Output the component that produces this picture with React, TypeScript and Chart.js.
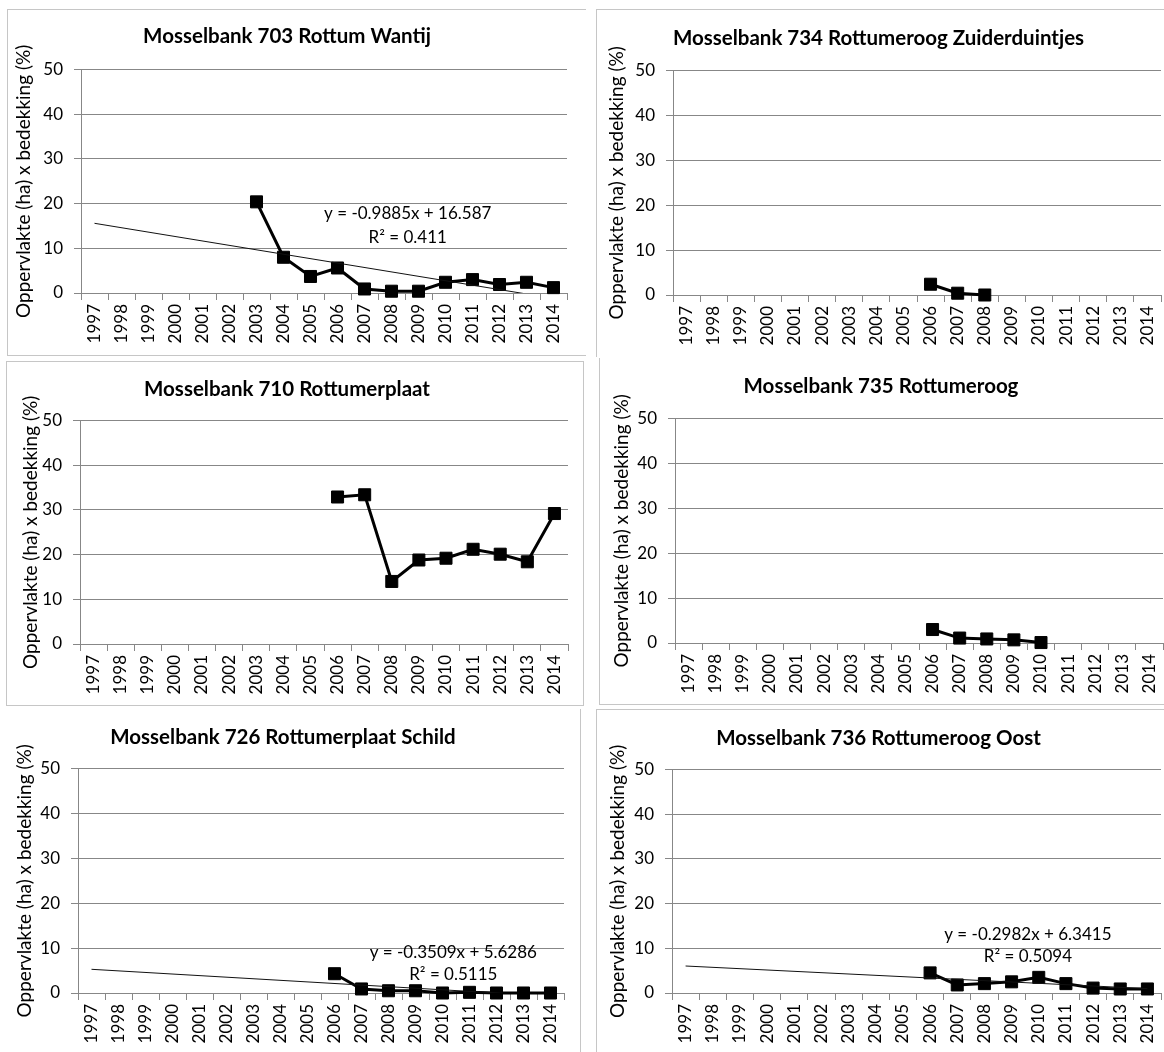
import React, { useEffect, useRef } from "react";
import { Chart, registerables } from "chart.js";

Chart.register(...registerables);

// ---------- data ----------
const YEARS = [
  "1997", "1998", "1999", "2000", "2001", "2002", "2003", "2004", "2005",
  "2006", "2007", "2008", "2009", "2010", "2011", "2012", "2013", "2014",
];
const Y_MIN = 0;
const Y_MAX = 50;
const Y_STEP = 10;
const Y_TITLE = "Oppervlakte (ha) x bedekking (%)";

const TITLE_703 = "Mosselbank 703 Rottum Wantij";
const VALUES_703 = [null, null, null, null, null, null, 20.4, 8.0, 3.7, 5.6, 0.9, 0.4, 0.4, 2.4, 3.0, 1.9, 2.4, 1.2];
const TREND_703 = [15.6, -1.21]; // y = -0.9885x + 16.587 at 1997 and 2014
const EQ_703 = ["y = -0.9885x + 16.587", "R² = 0.411"];
const EQ_POS_703 = [11.6, 17.8, 12.5]; // category index, value of line 1, value of line 2

const TITLE_734 = "Mosselbank 734 Rottumeroog Zuiderduintjes";
const VALUES_734 = [null, null, null, null, null, null, null, null, null, 2.4, 0.4, 0.0, null, null, null, null, null, null];

const TITLE_710 = "Mosselbank 710 Rottumerplaat";
const VALUES_710 = [null, null, null, null, null, null, null, null, null, 32.9, 33.4, 14.0, 18.8, 19.2, 21.2, 20.1, 18.4, 29.2];

const TITLE_735 = "Mosselbank 735 Rottumeroog";
const VALUES_735 = [null, null, null, null, null, null, null, null, null, 3.0, 1.1, 0.9, 0.7, 0.1, null, null, null, null];

const TITLE_726 = "Mosselbank 726 Rottumerplaat Schild";
const VALUES_726 = [null, null, null, null, null, null, null, null, null, 4.3, 0.9, 0.5, 0.5, 0.0, 0.15, 0.0, 0.0, 0.0];
const TREND_726 = [5.28, -0.69]; // y = -0.3509x + 5.6286
const EQ_726 = ["y = -0.3509x + 5.6286", "R² = 0.5115"];
const EQ_POS_726 = [13.4, 9.0, 4.1];

const TITLE_736 = "Mosselbank 736 Rottumeroog Oost";
const VALUES_736 = [null, null, null, null, null, null, null, null, null, 4.5, 1.8, 2.1, 2.5, 3.5, 2.1, 1.1, 0.9, 0.9];
const TREND_736 = [6.04, 0.97]; // y = -0.2982x + 6.3415
const EQ_736 = ["y = -0.2982x + 6.3415", "R² = 0.5094"];
const EQ_POS_736 = [12.6, 13.2, 8.1];

// ---------- styles ----------
const FONT = "Lato, 'Open Sans', sans-serif";
const GRID = "#878787";
const FRAME = "#c6c6c6";
const TEXT = "#000000";

type Layout = {
  left: number; top: number; width: number; height: number;
  yAxisW: number; padRight: number; xAxisH: number;
  titleTop: number; titleBottom: number; yTitlePad: number;
  borders: string; // t r b l flags
};

type Spec = {
  title: string;
  values: (number | null)[];
  trend?: number[];
  eq?: string[];
  eqPos?: number[];
  layout: Layout;
};

const trendSeries = (ends: number[]) =>
  YEARS.map((_, i) => (i === 0 ? ends[0] : i === YEARS.length - 1 ? ends[1] : null));

const eqPlugin = {
  id: "eqLabel",
  afterDatasetsDraw(chart: any, _args: any, opts: any) {
    if (!opts || !opts.lines || !opts.pos) return;
    const { ctx } = chart;
    const xs = chart.scales.x;
    const ys = chart.scales.y;
    ctx.save();
    ctx.font = `17px ${FONT}`;
    ctx.fillStyle = TEXT;
    ctx.textAlign = "center";
    ctx.textBaseline = "middle";
    const px = xs.getPixelForValue(opts.pos[0]);
    opts.lines.forEach((t: string, i: number) => {
      ctx.fillText(t, px, ys.getPixelForValue(opts.pos[i + 1]));
    });
    ctx.restore();
  },
};

function Panel({ spec }: { spec: Spec }) {
  const ref = useRef<HTMLCanvasElement>(null);
  const L = spec.layout;
  useEffect(() => {
    if (!ref.current) return;
    const datasets: any[] = [];
    if (spec.trend) {
      datasets.push({
        data: trendSeries(spec.trend),
        borderColor: "#111111",
        borderWidth: 1,
        pointRadius: 0,
        spanGaps: true,
        fill: false,
        tension: 0,
      });
    }
    datasets.push({
      data: spec.values,
      borderColor: "#000000",
      backgroundColor: "#000000",
      borderWidth: 3,
      pointStyle: "rect",
      pointRadius: 8.5,
      pointBorderWidth: 1,
      pointBackgroundColor: "#000000",
      pointBorderColor: "#000000",
      clip: false,
      spanGaps: false,
      tension: 0,
    });
    const tickFont = { family: FONT, size: 17 };
    const chart = new Chart(ref.current, {
      type: "line",
      data: { labels: YEARS, datasets },
      plugins: [eqPlugin as any],
      options: {
        responsive: false,
        animation: false,
        devicePixelRatio: 1,
        layout: { padding: { left: 0, right: L.padRight, top: 0, bottom: 0 } },
        plugins: {
          legend: { display: false },
          tooltip: { enabled: false },
          title: {
            display: true,
            text: spec.title,
            color: TEXT,
            font: { family: FONT, size: 20.5, weight: "bold", lineHeight: 1.2 },
            padding: { top: L.titleTop, bottom: L.titleBottom },
          },
          eqLabel: spec.eq ? { lines: spec.eq, pos: spec.eqPos } : {},
        } as any,
        scales: {
          x: {
            type: "category",
            offset: true,
            grid: {
              display: true,
              drawOnChartArea: false,
              drawTicks: true,
              tickLength: 7,
              offset: true,
              color: GRID,
            },
            border: { display: true, color: GRID, width: 1 },
            ticks: {
              minRotation: 90,
              maxRotation: 90,
              autoSkip: false,
              padding: 4,
              font: tickFont,
              color: TEXT,
            },
            afterFit: (s: any) => {
              s.height = L.xAxisH;
            },
          },
          y: {
            min: Y_MIN,
            max: Y_MAX,
            ticks: { stepSize: Y_STEP, padding: 11, font: tickFont, color: TEXT },
            grid: { color: GRID, tickLength: 7, drawTicks: true },
            border: { display: true, color: GRID, width: 1 },
            title: {
              display: true,
              text: Y_TITLE,
              color: TEXT,
              font: { family: FONT, size: 19, lineHeight: 1.2 },
              padding: { top: L.yTitlePad, bottom: 0 },
            },
            afterFit: (s: any) => {
              s.width = L.yAxisW;
            },
          },
        } as any,
      },
    });
    return () => chart.destroy();
  }, []);

  const b = L.borders;
  const line = `1px solid ${FRAME}`;
  return (
    <div style={{ position: "absolute", left: L.left, top: L.top, width: L.width, height: L.height }}>
      <canvas ref={ref} width={L.width} height={L.height} style={{ display: "block", width: L.width, height: L.height }} />
      <div
        style={{
          position: "absolute",
          left: 0,
          top: 0,
          width: L.width,
          height: L.height,
          boxSizing: "border-box",
          borderTop: b[0] === "1" ? line : "none",
          borderRight: b[1] === "1" ? line : "none",
          borderBottom: b[2] === "1" ? line : "none",
          borderLeft: b[3] === "1" ? line : "none",
          pointerEvents: "none",
        }}
      />
    </div>
  );
}

const PANELS: Spec[] = [
  {
    title: TITLE_703, values: VALUES_703, trend: TREND_703, eq: EQ_703, eqPos: EQ_POS_703,
    layout: { left: 7, top: 9, width: 579, height: 347, yAxisW: 74, padRight: 19, xAxisH: 63, titleTop: 15, titleBottom: 21, yTitlePad: 5, borders: "1011" },
  },
  {
    title: TITLE_734, values: VALUES_734,
    layout: { left: 596, top: 9, width: 580, height: 348, yAxisW: 77, padRight: 15, xAxisH: 62, titleTop: 17, titleBottom: 20, yTitlePad: 9, borders: "1001" },
  },
  {
    title: TITLE_710, values: VALUES_710,
    layout: { left: 6, top: 361, width: 578, height: 345, yAxisW: 74, padRight: 16, xAxisH: 62, titleTop: 16, titleBottom: 19, yTitlePad: 13, borders: "1111" },
  },
  {
    title: TITLE_735, values: VALUES_735,
    layout: { left: 599, top: 358, width: 581, height: 347, yAxisW: 76, padRight: 17, xAxisH: 62, titleTop: 16, titleBottom: 20, yTitlePad: 11, borders: "0011" },
  },
  {
    title: TITLE_726, values: VALUES_726, trend: TREND_726, eq: EQ_726, eqPos: EQ_POS_726,
    layout: { left: 2, top: 709, width: 579, height: 349, yAxisW: 76, padRight: 17, xAxisH: 65, titleTop: 16, titleBottom: 19, yTitlePad: 11, borders: "0100" },
  },
  {
    title: TITLE_736, values: VALUES_736, trend: TREND_736, eq: EQ_736, eqPos: EQ_POS_736,
    layout: { left: 596, top: 709, width: 580, height: 349, yAxisW: 76, padRight: 15, xAxisH: 65, titleTop: 17, titleBottom: 19, yTitlePad: 10, borders: "1001" },
  },
];

export default function App() {
  return (
    <div
      style={{
        position: "absolute",
        left: 0,
        top: 0,
        width: 1164,
        height: 1052,
        overflow: "hidden",
        background: "#ffffff",
      }}
    >
      {PANELS.map((p, i) => (
        <Panel key={i} spec={p} />
      ))}
    </div>
  );
}
